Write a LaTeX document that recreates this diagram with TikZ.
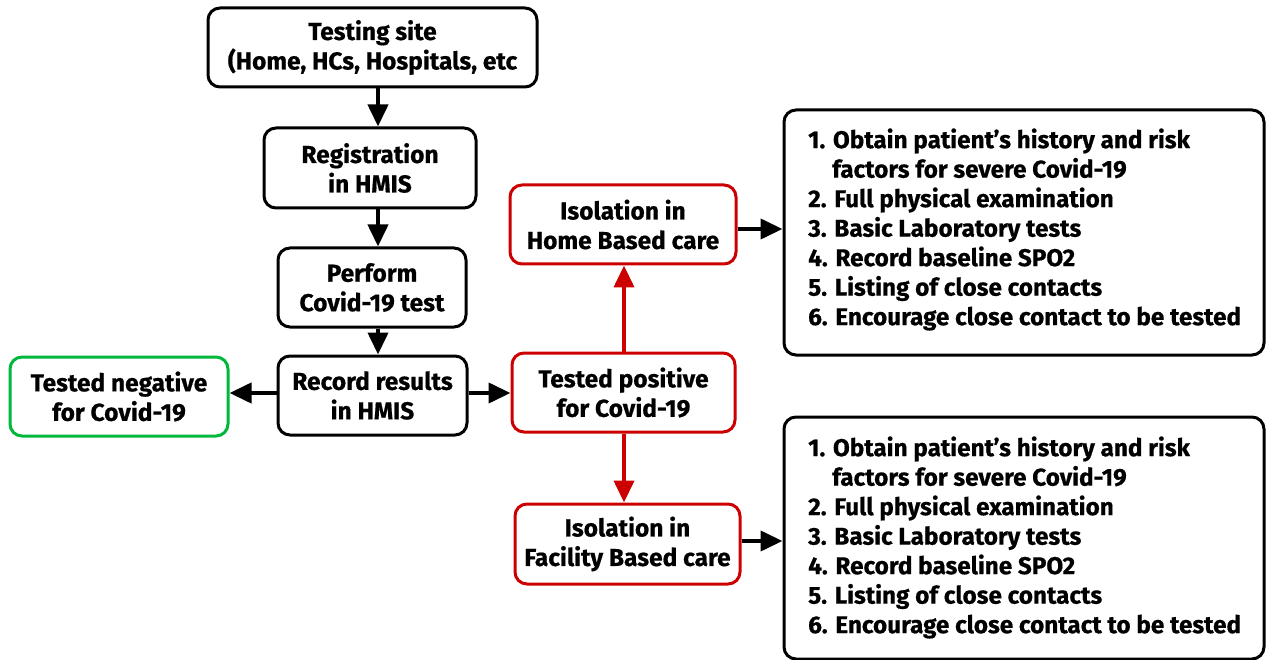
\documentclass[tikz,border=0pt]{standalone}
\usepackage{fontspec}
\setmainfont{Fira Sans}[BoldFeatures={FakeBold=0.6}]
\usetikzlibrary{arrows.meta}
\definecolor{redb}{RGB}{204,0,0}
\definecolor{greenb}{RGB}{0,184,60}
\tikzset{
  boxb/.style={draw=black, line width=3pt, rounded corners=12pt, fill=white, align=center,
    font=\bfseries\fontsize{24.5}{29.5}\selectfont, inner sep=0pt},
  boxr/.style={boxb, draw=redb},
  boxg/.style={boxb, draw=greenb},
  listtxt/.style={align=left, font=\bfseries\fontsize{24.3}{29.5}\selectfont, inner sep=0pt, anchor=west},
  arr/.style={line width=4pt, -{Triangle[length=22pt,width=20pt]}},
  arrr/.style={arr, draw=redb, color=redb},
}
\begin{document}
\begin{tikzpicture}[x=1pt,y=-1pt]
\useasboundingbox (0,0) rectangle (1266,660);
\fill[white] (0,0) rectangle (1266,660);
% boxes
\node[boxb, minimum width=329pt, minimum height=79pt] (site) at (372.5,47.5) {Testing site\\(Home, HCs, Hospitals, etc};
\node[boxb, minimum width=212pt, minimum height=80pt] (reg) at (370,168) {Registration\\in HMIS};
\node[boxb, minimum width=188pt, minimum height=79pt] (perf) at (372,287.5) {Perform\\Covid-19 test};
\node[boxb, minimum width=189pt, minimum height=79pt] (rec) at (372.5,395.5) {Record results\\in HMIS};
\node[boxg, minimum width=218pt, minimum height=79pt] (neg) at (119,396.5) {Tested negative\\for Covid-19};
\node[boxr, minimum width=223pt, minimum height=79pt] (pos) at (623.5,392.5) {Tested positive\\for Covid-19};
\node[boxr, minimum width=226pt, minimum height=79pt] (home) at (623,224.5) {Isolation in\\Home Based care};
\node[boxr, minimum width=225pt, minimum height=80pt] (fac) at (627.5,544) {Isolation in\\Facility Based care};
\node[boxb, minimum width=480pt, minimum height=245pt] (list1) at (1024,232.5) {};
\node[boxb, minimum width=480pt, minimum height=242pt] (list2) at (1024,538) {};
\node[listtxt] (l1t) at (808,229.5) {1. Obtain patient’s history and risk\\\hspace*{24pt}factors for severe Covid-19\\2. Full physical examination\\3. Basic Laboratory tests\\4. Record baseline SPO2\\5. Listing of close contacts\\6. Encourage close contact to be tested};
\node[listtxt] (l2t) at (808,537.5) {1. Obtain patient’s history and risk\\\hspace*{24pt}factors for severe Covid-19\\2. Full physical examination\\3. Basic Laboratory tests\\4. Record baseline SPO2\\5. Listing of close contacts\\6. Encourage close contact to be tested};
% arrows
\draw[arr] (site.south -| 378,0) -- (reg.north -| 378,0);
\draw[arr] (reg.south -| 378,0) -- (perf.north -| 378,0);
\draw[arr] (perf.south -| 378,0) -- (rec.north -| 378,0);
\draw[arr] (rec.west |- 0,393) -- (neg.east |- 0,393);
\draw[arr] (rec.east |- 0,393) -- (pos.west |- 0,393);
\draw[arrr] (pos.north -| 624,0) -- (home.south -| 624,0);
\draw[arrr] (pos.south -| 624,0) -- (fac.north -| 624,0);
\draw[arr] (home.east |- 0,229) -- (list1.west |- 0,229);
\draw[arr] (fac.east |- 0,541) -- (list2.west |- 0,541);
\end{tikzpicture}
\end{document}
